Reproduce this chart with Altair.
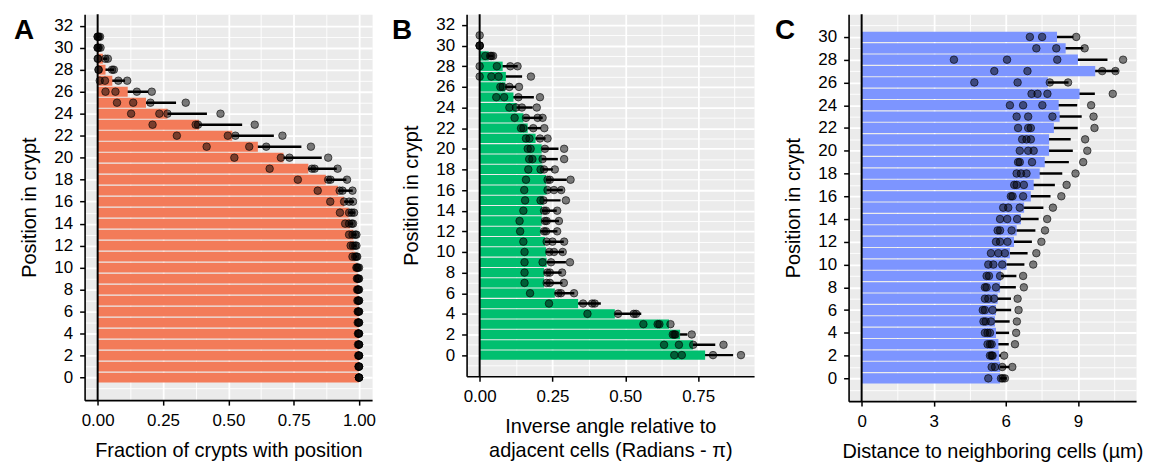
import altair as alt
import pandas as pd

FONT = "Liberation Sans"

# ---------------- Panel A: fraction of crypts with position ----------------
A_BAR = [1.0, 1.0, 1.0, 1.0, 1.0, 1.0, 1.0, 1.0, 0.997, 0.996,
         0.995, 0.986, 0.98, 0.978, 0.965, 0.96, 0.943, 0.92, 0.873, 0.806,
         0.711, 0.613, 0.515, 0.388, 0.267, 0.185, 0.115, 0.056, 0.030, 0.020,
         0.004, 0.002]
A_POINTS = [
    [1.0, 1.0, 1.0, 1.0], [0.998, 1.0, 1.0, 1.0], [0.997, 1.0, 1.0, 1.0],
    [0.996, 1.0, 1.0, 1.0], [0.996, 0.998, 1.0, 1.0], [0.995, 0.998, 1.0, 1.0],
    [0.995, 0.997, 1.0, 1.0], [0.994, 0.997, 1.0, 1.0], [0.993, 0.996, 0.998, 1.0],
    [0.992, 0.995, 0.998, 1.0], [0.990, 0.993, 0.996, 1.0], [0.975, 0.985, 0.990, 0.993],
    [0.968, 0.977, 0.985, 0.990], [0.962, 0.975, 0.985, 0.990], [0.947, 0.962, 0.972, 0.977],
    [0.927, 0.962, 0.972, 0.981], [0.890, 0.943, 0.962, 0.977], [0.842, 0.926, 0.937, 0.975],
    [0.766, 0.882, 0.891, 0.954], [0.658, 0.820, 0.830, 0.918], [0.523, 0.701, 0.734, 0.882],
    [0.417, 0.580, 0.645, 0.816], [0.303, 0.498, 0.527, 0.707], [0.210, 0.375, 0.384, 0.601],
    [0.128, 0.236, 0.267, 0.470], [0.074, 0.136, 0.202, 0.337], [0.030, 0.068, 0.150, 0.207],
    [0.008, 0.028, 0.079, 0.113], [0.003, 0.004, 0.055, 0.062], [0.0, 0.002, 0.029, 0.039],
    [0.0, 0.0, 0.004, 0.011], [0.0, 0.0, 0.004, 0.009],
]

# ---------------- Panel B: inverse angle ----------------
B_BAR = [0.774, 0.732, 0.688, 0.650, 0.464, 0.338, 0.258, 0.221, 0.221, 0.230,
         0.228, 0.224, 0.209, 0.213, 0.214, 0.219, 0.230, 0.228, 0.216, 0.213,
         0.213, 0.192, 0.165, 0.150, 0.127, 0.116, 0.088, 0.090, 0.079, 0.031,
         0.0, 0.0]
B_POINTS = [
    [0.668, 0.694, 0.801, 0.897], [0.633, 0.684, 0.733, 0.837], [0.663, 0.668, 0.672, 0.728],
    [0.562, 0.611, 0.617, 0.655], [0.370, 0.475, 0.529, 0.537], [0.238, 0.355, 0.386, 0.395],
    [0.173, 0.270, 0.279, 0.324], [0.154, 0.230, 0.241, 0.289], [0.154, 0.232, 0.241, 0.283],
    [0.154, 0.216, 0.245, 0.310], [0.154, 0.239, 0.255, 0.285], [0.150, 0.230, 0.250, 0.290],
    [0.139, 0.221, 0.228, 0.266], [0.137, 0.224, 0.230, 0.272], [0.150, 0.221, 0.228, 0.266],
    [0.156, 0.209, 0.219, 0.296], [0.153, 0.233, 0.255, 0.280], [0.159, 0.233, 0.241, 0.312],
    [0.167, 0.209, 0.221, 0.258], [0.170, 0.181, 0.216, 0.290], [0.165, 0.175, 0.224, 0.290],
    [0.159, 0.171, 0.207, 0.233], [0.142, 0.150, 0.184, 0.222], [0.120, 0.159, 0.199, 0.216],
    [0.102, 0.125, 0.145, 0.196], [0.057, 0.084, 0.133, 0.207], [0.071, 0.079, 0.102, 0.135],
    [0.0, 0.040, 0.065, 0.176], [0.0, 0.059, 0.105, 0.130], [0.019, 0.036, 0.040, 0.046],
    [0.0, 0.0, 0.0], [0.0],
]

# ---------------- Panel C: distance to neighbouring cells ----------------
C_BAR = [5.76, 5.76, 5.72, 5.69, 5.59, 5.55, 5.59, 5.66, 5.76, 5.80,
         6.03, 6.17, 6.34, 6.45, 6.63, 6.76, 7.04, 7.16, 7.41, 7.62,
         7.80, 7.80, 8.00, 8.24, 8.20, 9.07, 7.75, 9.72, 9.00, 8.49, 8.13]
C_POINTS = [
    [5.27, 5.80, 5.87, 5.96], [5.41, 5.55, 5.85, 6.27], [5.34, 5.41, 5.45, 5.93],
    [5.24, 5.34, 5.41, 6.38], [5.13, 5.24, 5.34, 6.43], [5.07, 5.16, 5.38, 6.46],
    [5.04, 5.13, 5.45, 6.53], [5.13, 5.27, 5.51, 6.49], [5.13, 5.20, 5.59, 6.75],
    [5.20, 5.30, 5.76, 6.72], [5.27, 5.48, 5.85, 7.14], [5.38, 5.69, 5.96, 7.27],
    [5.59, 5.76, 6.07, 7.48], [5.66, 5.76, 6.24, 7.63], [5.76, 6.06, 6.47, 7.72],
    [5.89, 6.10, 6.58, 7.96], [6.21, 6.28, 6.72, 8.31], [6.35, 6.45, 6.75, 8.53],
    [6.45, 6.63, 6.86, 8.90], [6.51, 6.58, 7.09, 9.22], [6.58, 6.93, 7.16, 9.39],
    [6.68, 6.86, 7.04, 9.30], [6.51, 6.93, 7.04, 9.69], [6.45, 6.93, 7.94, 9.65],
    [6.17, 6.72, 7.52, 9.55], [7.07, 7.32, 7.73, 10.45], [4.69, 6.49, 7.83, 8.59],
    [5.52, 6.90, 10.01, 10.56], [3.84, 6.05, 8.14, 10.88], [7.27, 8.10, 9.28],
    [7.00, 7.51, 8.93],
]

A_X_TICKS = [0, 0.125, 0.25, 0.375, 0.5, 0.625, 0.75, 0.875, 1.0]
B_X_TICKS = [0, 0.125, 0.25, 0.375, 0.5, 0.625, 0.75, 0.875]
C_X_TICKS = [0, 1.5, 3, 4.5, 6, 7.5, 9, 10.5]
AB_Y_TICKS = list(range(-1, 33))
C_Y_TICKS = list(range(-1, 32))

Y_TITLE = "Position in crypt"
A_TITLE = "Fraction of crypts with position"
B_TITLE = ["Inverse angle relative to", "adjacent cells (Radians - \u03c0)"]
C_TITLE = "Distance to neighboring cells (\u00b5m)"


def cond(test, a, b):
    return {"condition": {"test": test, "value": a}, "value": b}


def make_axis(values, test, fmt, title_pad):
    return alt.Axis(
        values=values,
        labelExpr=f"({test}) ? format(datum.value, '{fmt}') : ''",
        grid=True, gridColor="white",
        gridWidth=cond(test, 1.8, 0.9),
        tickOpacity=cond(test, 1, 0),
        tickColor="black", tickWidth=1.5, tickSize=5,
        domain=True, domainColor="black", domainWidth=1.6,
        labelFont=FONT, labelFontSize=17, labelColor="black", labelPadding=7,
        labelOverlap=False, labelFlush=False,
        titleFont=FONT, titleFontSize=20, titleFontWeight="normal",
        titleColor="black", titlePadding=title_pad, titleLineHeight=24,
    )


def make_panel(bars, points, color, xdom, xticks, xtest, xfmt, xtitle,
               ydom, yticks, height, letter, letter_dx):
    pts = pd.DataFrame([{"pos": p, "v": v} for p, vals in enumerate(points) for v in vals])
    bdf = pd.DataFrame({"pos": list(range(len(bars))), "bar": bars})
    xs = alt.Scale(domain=xdom, nice=False, zero=False)
    ys = alt.Scale(domain=ydom, nice=False, zero=False)
    xax = make_axis(xticks, xtest, xfmt, 13)
    yax = make_axis(yticks, "datum.value % 2 == 0", "d", 14)

    def X(f):
        return alt.X(f"{f}:Q", scale=xs, axis=xax, title=xtitle)

    def Y(f):
        return alt.Y(f"{f}:Q", scale=ys, axis=yax, title=Y_TITLE)

    err = (
        alt.Chart(pts)
        .transform_aggregate(m="mean(v)", s="stdev(v)", groupby=["pos"])
        .transform_filter("isValid(datum.s) && datum.s > 0")
        .transform_calculate(lo="max(0, datum.m - datum.s)", hi="datum.m + datum.s")
        .mark_rule(color="black", strokeWidth=2.5)
        .encode(x=X("lo"), x2="hi:Q", y=Y("pos"))
    )
    bar = (
        alt.Chart(bdf)
        .transform_filter("datum.bar > 0")
        .transform_calculate(y0="datum.pos - 0.45", y1="datum.pos + 0.45")
        .mark_bar(color=color)
        .encode(x=X("bar"), x2=alt.datum(0), y=Y("y0"), y2="y1:Q")
    )
    vline = (
        alt.Chart(pd.DataFrame({"z": [0]}))
        .mark_rule(color="black", strokeWidth=2)
        .encode(x=X("z"))
    )
    dots = (
        alt.Chart(pts)
        .mark_circle(size=58, color="black", opacity=1, fillOpacity=0.5,
                     stroke="black", strokeWidth=0.8, strokeOpacity=0.75)
        .encode(x=X("v"), y=Y("pos"))
    )
    lab = (
        alt.Chart(pd.DataFrame({"t": [letter]}))
        .mark_text(align="left", baseline="middle", font=FONT, fontSize=28,
                   fontWeight="bold", color="black")
        .encode(x=alt.value(letter_dx), y=alt.value(17), text="t:N")
    )
    return alt.layer(err, bar, vline, dots, lab).properties(width=289, height=height)


major4 = "abs(datum.value*4 - round(datum.value*4)) < 0.000001"
major3 = "abs(datum.value/3 - round(datum.value/3)) < 0.000001"

pa = make_panel(A_BAR, A_POINTS, "#F37B59", [-0.05, 1.05], A_X_TICKS, major4, ".2f",
                A_TITLE, [-2.05, 33.05], AB_Y_TICKS, 388, "A", -71)
pb = make_panel(B_BAR, B_POINTS, "#00BF6F", [-0.0449, 0.942], B_X_TICKS, major4, ".2f",
                B_TITLE, [-2.05, 33.05], AB_Y_TICKS, 364, "B", -75)
pc = make_panel(C_BAR, C_POINTS, "#7D95FF", [-0.544, 11.42], C_X_TICKS, major3, "d",
                C_TITLE, [-2.0, 32.0], C_Y_TICKS, 389, "C", -74)

chart = (
    alt.hconcat(pa, pb, pc, spacing=95, bounds="flush")
    .properties(padding={"left": 5, "top": 3, "right": 5, "bottom": 2})
    .configure_view(fill="#EBEBEB", stroke="transparent")
)

chart.save("out.html", embed_options={"renderer": "svg", "actions": False})
